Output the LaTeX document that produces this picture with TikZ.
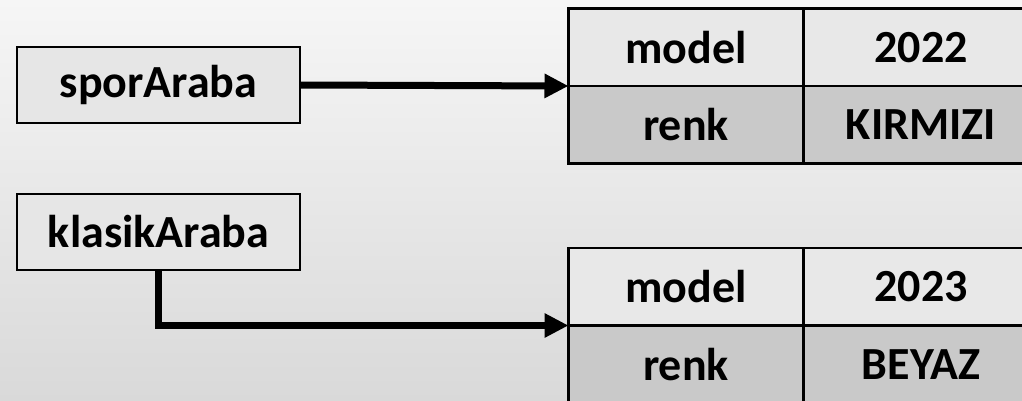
\documentclass[tikz,border=0pt]{standalone}
\usepackage{fontspec}
\setmainfont{Carlito}
\usepackage{xcolor}
\usetikzlibrary{positioning, arrows.meta}

\definecolor{bgtop}{HTML}{F6F6F6}
\definecolor{bgbottom}{HTML}{D9D9D9}
\definecolor{boxfill}{HTML}{E6E6E6}
\definecolor{rowlight}{HTML}{E8E8E8}
\definecolor{rowdark}{HTML}{C9C9C9}

\tikzset{
    bigtext/.style={font=\bfseries\fontsize{46}{50}\selectfont},
    refbox/.style={draw, line width=2.7pt, fill=boxfill, minimum width=283pt, minimum height=76pt, outer sep=0pt, bigtext},
    cell/.style={draw, line width=2.7pt, minimum width=235pt, minimum height=77.5pt, inner sep=0pt, outer sep=0pt, bigtext},
    toprow/.style={cell, fill=rowlight},
    botrow/.style={cell, fill=rowdark},
    pointer/.style={line width=7pt, -{Triangle[length=24pt, width=23pt]}}
}

\begin{document}
\begin{tikzpicture}[x=1pt, y=-1pt]

    \useasboundingbox (0,0) rectangle (1022,401);
    % Background
    \fill[top color=bgtop, bottom color=bgbottom] (0,0) rectangle (1022,401);

    % Reference variables
    \node[refbox] (spor) at (158.5,85) {sporAraba};
    \node[refbox] (klasik) at (158.5,232) {klasikAraba};

    % First object
    \node[toprow, anchor=north west] (model1) at (568.5,8.5) {model};
    \node[toprow, right=0pt of model1] (year1) {2022};
    \node[botrow, below=0pt of model1] (renk1) {renk};
    \node[botrow, right=0pt of renk1] (color1) {KIRMIZI};

    % Second object
    \node[toprow, anchor=north west] (model2) at (568.5,248) {model};
    \node[toprow, right=0pt of model2] (year2) {2023};
    \node[botrow, below=0pt of model2] (renk2) {renk};
    \node[botrow, right=0pt of renk2] (color2) {BEYAZ};

    % Pointers
    \draw[pointer] (spor.east) -- (model1.south west);
    \draw[pointer] (klasik.south) |- (model2.south west);

\end{tikzpicture}
\end{document}
